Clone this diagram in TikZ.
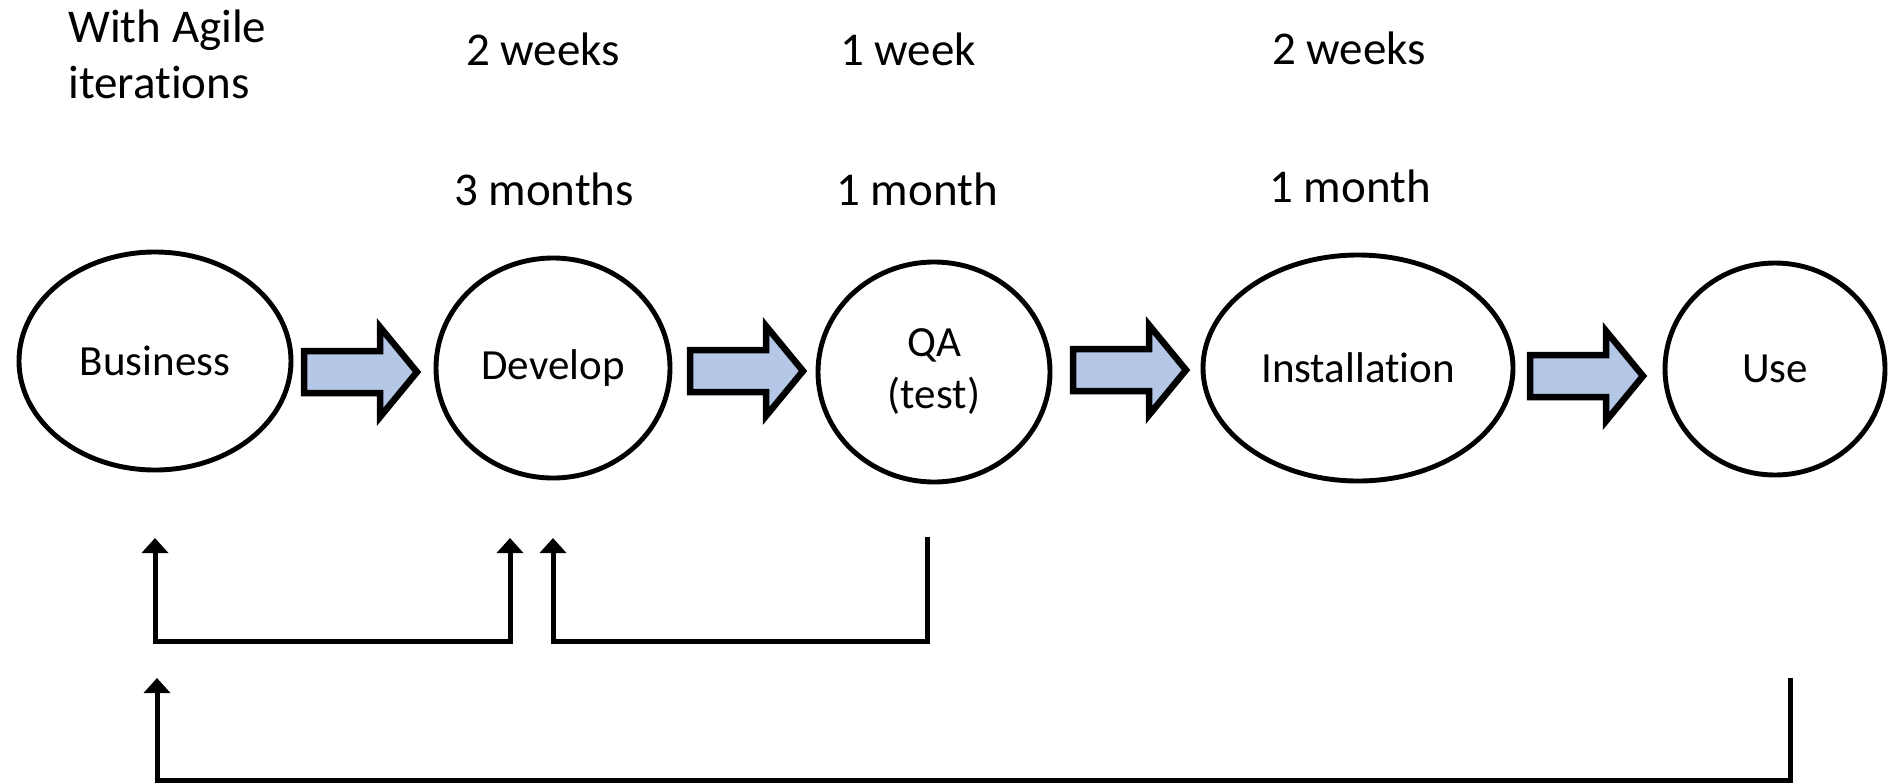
\documentclass[tikz,border=0pt]{standalone}
\usepackage{fontspec}
\setmainfont{Carlito}[RawFeature={-liga;-clig;-calt;-dlig}]
\usetikzlibrary{arrows.meta,shapes.geometric}
\definecolor{arrowfill}{HTML}{B4C7E7}
\begin{document}
\begin{tikzpicture}[x=0.5pt,y=-0.5pt,
  stage/.style={ellipse, draw=black, line width=2.45pt, inner sep=0pt,
    font=\fontsize{21.5}{26}\selectfont, align=center},
  note/.style={font=\fontsize{23.5}{28}\selectfont, anchor=base, inner sep=0pt},
  blockstyle/.style={draw=black, fill=arrowfill, line width=3.25pt, line join=miter},
  loop/.style={draw=black, line width=2.5pt, line join=miter},
  uptip/.tip={Triangle[width=13pt,length=7.5pt]},
  blockarrow/.pic={
    \path[blockstyle] (0,-21) -- (76,-21) -- (76,-45) -- (113,0)
      -- (76,45) -- (76,21) -- (0,21) -- cycle;
  }]
\useasboundingbox (0,0) rectangle (1888,782);

% process stages
\node[stage, minimum width=136pt, minimum height=109pt] (biz)  at (155,361)  {Business};
\node[stage, minimum width=117pt, minimum height=110pt] (dev)  at (553,368)  {Develop};
\node[stage, minimum width=116pt, minimum height=110pt] (qa)   at (934,372)  {QA\\(test)};
\node[stage, minimum width=155pt, minimum height=113pt] (inst) at (1358,368) {Installation};
\node[stage, minimum width=110pt, minimum height=106pt] (use)  at (1775,369) {Use};

% block arrows between stages
\pic (a1) at (304,372)  {blockarrow};
\pic (a2) at (690,371)  {blockarrow};
\pic (a3) at (1073,370) {blockarrow};
\pic (a4) at (1530,376) {blockarrow};

% durations
\node[note, anchor=base west] (agile1) at (68,42) {With Agile};
\node[note, anchor=base west] (agile2) at (68,98) {iterations};
\node[note] (dshort) at (543,65)  {2 weeks};
\node[note] (qshort) at (908,65)  {1 week};
\node[note] (ishort) at (1349,64) {2 weeks};
\node[note] (dlong)  at (544,205) {3 months};
\node[note] (qlong)  at (917,205) {1 month};
\node[note] (ilong)  at (1350,202) {1 month};

% feedback loops
\coordinate (bizA) at (155,538);
\coordinate (devA) at (510,538);
\coordinate (devB) at (553,538);
\coordinate (qaB)  at (927,537);
\coordinate (useC) at (1790,678);
\coordinate (bizC) at (157,678);

\draw[loop, uptip-uptip] (bizA) -- ++(0,103) -| (devA);
\draw[loop, -uptip] (qaB) -- ++(0,104) -| (devB);
\draw[loop, -uptip] (useC) -- ++(0,102) -| (bizC);
\end{tikzpicture}
\end{document}
